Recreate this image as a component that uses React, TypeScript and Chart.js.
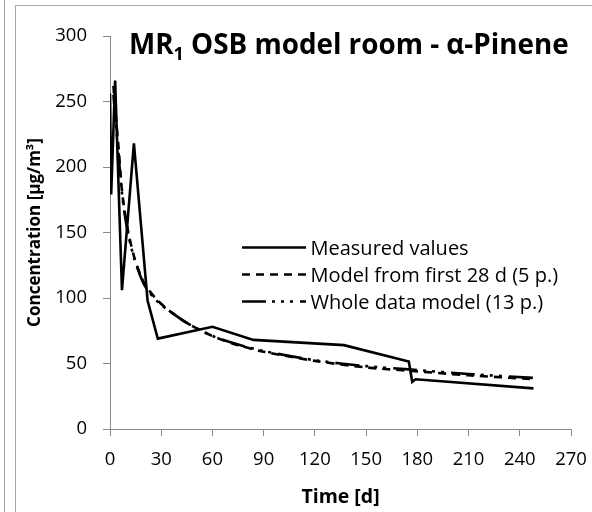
import React, { useEffect, useRef } from "react";
import { Chart, registerables } from "chart.js";

Chart.register(...registerables);

// ---- data ----
const measuredDays = [0, 0.7, 3, 7, 14, 22, 28, 60, 84, 137, 175, 177, 179, 248];
const measuredConc = [256, 179, 266, 106, 218, 98, 69, 78, 68, 64, 51.5, 36, 38, 31];

const modelDays = [2, 3, 4, 5, 7, 10, 14, 18, 21, 28, 35, 45, 60, 75, 90, 120, 150, 175, 210, 248];
const model28Conc = [262, 245, 230, 215, 182, 155, 132, 117, 109, 98, 90, 81, 71, 64, 59, 52, 47, 44.5, 41, 38];
const modelWholeConc = [255, 240, 225, 210, 180, 153, 131, 116, 108, 97, 90, 81, 71, 64.5, 59.5, 52.5, 48, 45.5, 42, 39];

const seriesLabels = ["Measured values", "Model from first 28 d (5 p.)", "Whole data model (13 p.)"];
const xTickValues = [0, 30, 60, 90, 120, 150, 180, 210, 240, 270];
const yTickValues = [0, 50, 100, 150, 200, 250, 300];

const titleMain = "MR";
const titleSub = "1";
const titleRest = " OSB model room - α-Pinene";
const xTitle = "Time [d]";
const yTitle = "Concentration [µg/m³]";

const FONT = "'Open Sans', 'Liberation Sans', sans-serif";
const AXIS_COLOR = "#8a8a8a";

const toPoints = (xs: number[], ys: number[]) => xs.map((x, i) => ({ x, y: ys[i] }));

const overlayPlugin = {
  id: "overlay",
  afterDraw(chart: any) {
    const ctx = chart.ctx as CanvasRenderingContext2D;
    const area = chart.chartArea;
    ctx.save();
    ctx.fillStyle = "#000";
    ctx.textBaseline = "alphabetic";
    ctx.textAlign = "left";
    // title
    let tx = area.left + 19;
    const ty = area.top + 17.5;
    ctx.font = `bold 27.8px ${FONT}`;
    ctx.fillText(titleMain, tx, ty);
    tx += ctx.measureText(titleMain).width;
    ctx.font = `bold 18px ${FONT}`;
    ctx.fillText(titleSub, tx, ty + 6.5);
    tx += ctx.measureText(titleSub).width;
    ctx.font = `bold 27.8px ${FONT}`;
    ctx.fillText(titleRest, tx, ty);

    // legend
    const lx0 = area.left + 132;
    const lx1 = area.left + 196;
    const ly0 = area.top + 211.5;
    const rowH = 27;
    ctx.font = `20px ${FONT}`;
    chart.data.datasets.forEach((ds: any, i: number) => {
      const y = ly0 + i * rowH;
      ctx.beginPath();
      ctx.setLineDash(ds.borderDash || []);
      ctx.lineWidth = ds.borderWidth;
      ctx.strokeStyle = ds.borderColor;
      ctx.lineCap = "butt";
      ctx.moveTo(lx0, y);
      ctx.lineTo(lx1, y);
      ctx.stroke();
      ctx.setLineDash([]);
      ctx.fillText(ds.label, lx1 + 4.5, y + 7);
    });
    ctx.restore();
  },
};

export default function App() {
  const canvasRef = useRef<HTMLCanvasElement | null>(null);

  useEffect(() => {
    const canvas = canvasRef.current;
    if (!canvas) return;
    const chart = new Chart(canvas, {
      type: "line",
      data: {
        datasets: [
          {
            label: seriesLabels[0],
            data: toPoints(measuredDays, measuredConc),
            borderColor: "#000",
            borderWidth: 2.6,
            pointRadius: 0,
            tension: 0,
            fill: false,
          },
          {
            label: seriesLabels[1],
            data: toPoints(modelDays, model28Conc),
            borderColor: "#000",
            borderWidth: 2.6,
            borderDash: [8, 6],
            pointRadius: 0,
            tension: 0.3,
            fill: false,
          },
          {
            label: seriesLabels[2],
            data: toPoints(modelDays, modelWholeConc),
            borderColor: "#000",
            borderWidth: 2.6,
            borderDash: [24, 6, 3, 6, 3, 6, 3, 7],
            pointRadius: 0,
            tension: 0.3,
            fill: false,
          },
        ],
      },
      options: {
        responsive: false,
        animation: false,
        devicePixelRatio: 1,
        layout: { padding: { left: 0, right: 21, top: 36, bottom: 0 } },
        plugins: {
          legend: { display: false },
          title: { display: false },
          tooltip: { enabled: false },
        },
        scales: {
          x: {
            type: "linear",
            min: 0,
            max: 270,
            afterBuildTicks: (scale: any) => {
              scale.ticks = xTickValues.map((v) => ({ value: v }));
            },
            afterFit: (scale: any) => {
              scale.height = 83;
              scale.paddingLeft = 0;
              scale.paddingRight = 0;
            },
            ticks: {
              font: { family: FONT, size: 18.5 },
              color: "#000",
              padding: 13,
              maxRotation: 0,
              autoSkip: false,
            },
            grid: {
              display: true,
              drawOnChartArea: false,
              drawTicks: true,
              tickLength: 7,
              color: AXIS_COLOR,
              lineWidth: 1,
            },
            border: { display: true, color: AXIS_COLOR, width: 1 },
            title: {
              display: true,
              text: xTitle,
              font: { family: FONT, size: 19.5, weight: "bold" },
              color: "#000",
              padding: { top: 0, bottom: 3 },
            },
          },
          y: {
            type: "linear",
            min: 0,
            max: 300,
            afterBuildTicks: (scale: any) => {
              scale.ticks = yTickValues.map((v) => ({ value: v }));
            },
            afterFit: (scale: any) => {
              scale.width = 110;
              scale.paddingTop = 0;
              scale.paddingBottom = 0;
            },
            ticks: {
              font: { family: FONT, size: 18.5 },
              color: "#000",
              padding: 16,
            },
            grid: {
              display: true,
              drawOnChartArea: false,
              drawTicks: true,
              tickLength: 7,
              color: AXIS_COLOR,
              lineWidth: 1,
            },
            border: { display: true, color: AXIS_COLOR, width: 1 },
            title: {
              display: true,
              text: yTitle,
              font: { family: FONT, size: 17, weight: "bold" },
              color: "#000",
              padding: { top: 25, bottom: 0 },
            },
          },
        },
      },
      plugins: [overlayPlugin],
    });
    return () => chart.destroy();
  }, []);

  return (
    <div style={{ position: "absolute", left: 0, top: 0, width: 592, height: 512, background: "#fff" }}>
      <div style={{ position: "absolute", left: 4, top: 0, width: 1, height: 512, background: "#a6a6a6" }} />
      <div
        style={{
          position: "absolute",
          left: 15,
          top: 5,
          width: 600,
          height: 600,
          borderLeft: "1px solid #a6a6a6",
          borderTop: "1px solid #a6a6a6",
          boxSizing: "border-box",
        }}
      />
      <canvas
        ref={canvasRef}
        width={592}
        height={512}
        style={{ position: "absolute", left: 0, top: 0, width: 592, height: 512 }}
      />
    </div>
  );
}
